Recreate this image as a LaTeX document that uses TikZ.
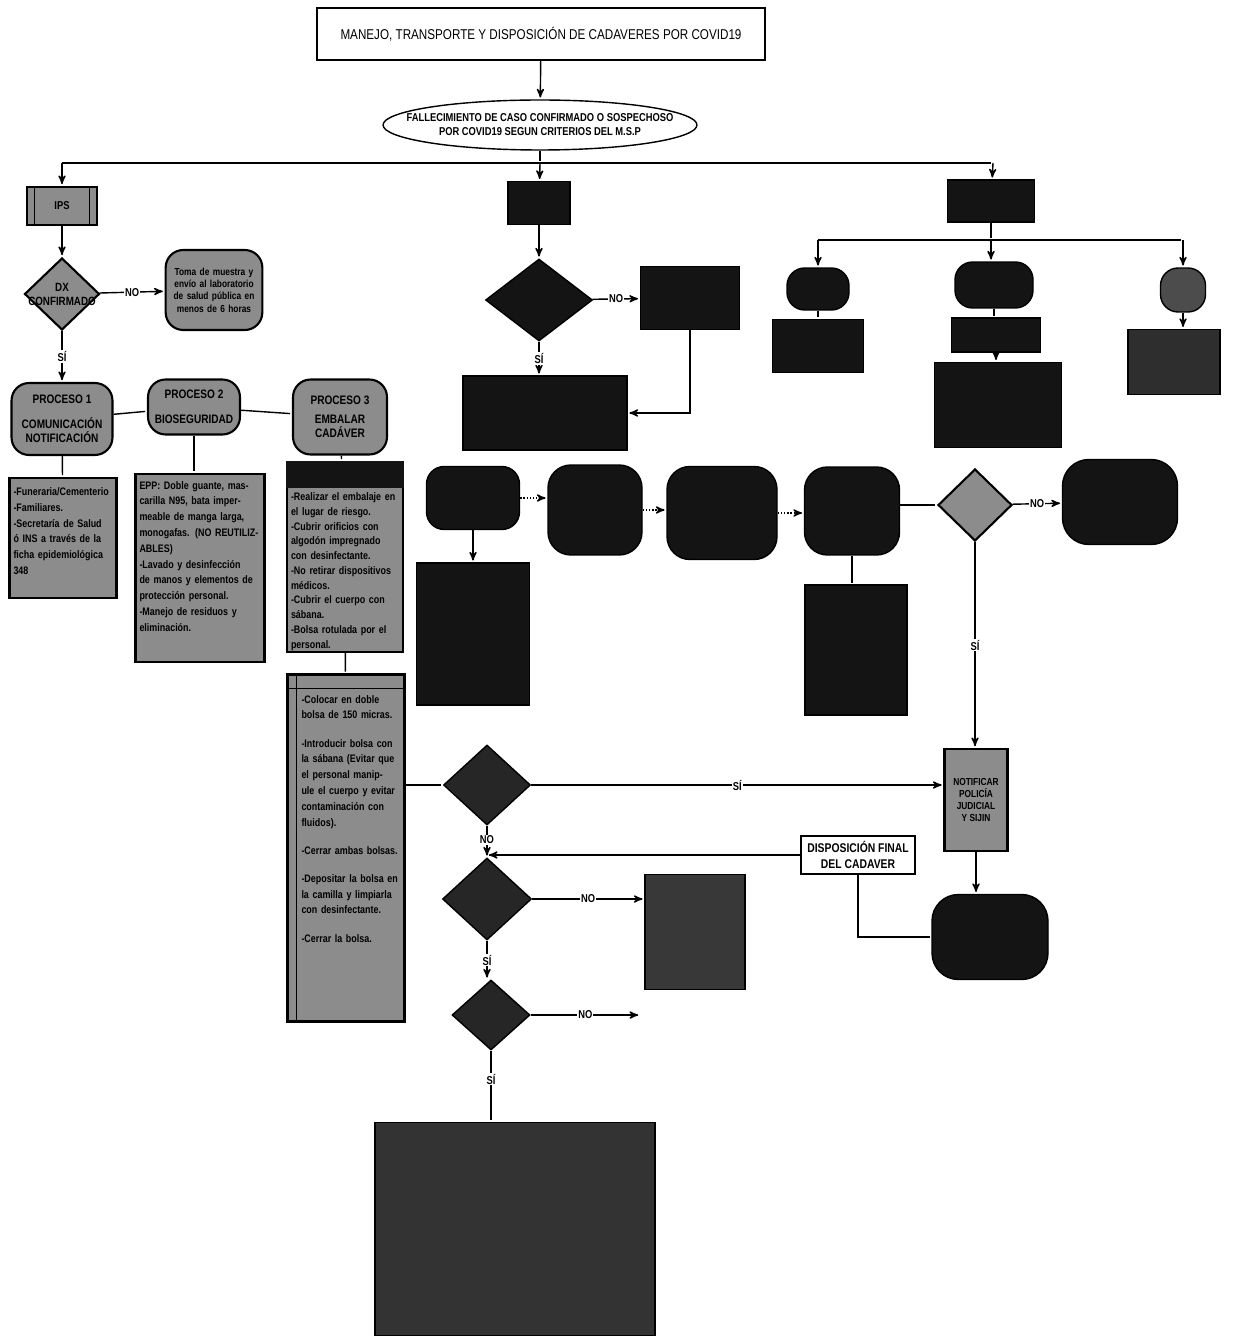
\documentclass[tikz,border=0pt]{standalone}
\usepackage{fontspec}
\setmainfont{Liberation Sans}
\newfontfamily\narrow[FakeStretch=0.82]{Liberation Sans}
\usetikzlibrary{arrows, positioning, shapes.geometric, calc}

\begin{document}
\begin{tikzpicture}[->,>=stealth',shorten >=1pt,x=0.02cm,y=-0.02cm,line width=0.8pt,
        every node/.style={font=\narrow\bfseries\fontsize{6}{7}\selectfont},
        dark box/.style={rectangle,draw,fill=black!92,inner sep=0pt},
        dark round/.style={rectangle,draw,fill=black!92,rounded corners=10pt,inner sep=0pt},
        gray box/.style={rectangle,draw,line width=1.2pt,fill=black!45,inner sep=2pt,align=left},
        box text/.style={draw=none,fill=none,inner sep=0pt,anchor=north,align=left,font=\narrow\bfseries\fontsize{6.2}{9}\selectfont},
        gray round/.style={rectangle,draw,line width=1.2pt,fill=black!45,rounded corners=10pt,align=center},
        dia/.style={diamond,draw,fill=black!92,inner sep=0pt},
        gray dia/.style={diamond,draw,line width=1.2pt,fill=black!45,inner sep=0pt},
        lbl/.style={fill=white,inner sep=0.6pt,font=\narrow\bfseries\fontsize{6.5}{6.5}\selectfont}]
    \useasboundingbox (0,0) rectangle (1249,1337);

    % top
    \node[draw,minimum width=8.96cm,minimum height=1.04cm,font=\narrow\fontsize{8.1}{9}\selectfont] (title) at (541,34) {MANEJO, TRANSPORTE Y DISPOSICIÓN DE CADAVERES POR COVID19};
    \node[ellipse,draw,minimum width=6.28cm,minimum height=1cm,inner sep=0pt,
          label={[align=center,font=\narrow\bfseries\fontsize{6.5}{8}\selectfont]center:FALLECIMIENTO DE CASO CONFIRMADO O SOSPECHOSO\\POR COVID19 SEGUN CRITERIOS DEL M.S.P}] (fall) at (540,125) {};
    \coordinate (bus) at (540,163);
    \coordinate (busL) at (62,163);
    \coordinate (busR) at (993,163);
    \draw (title) -- (fall);
    \draw[-] (fall) -- (bus);
    \draw[-] (busL) -- (busR);

    % left column
    \node[gray box,minimum width=1.4cm,minimum height=0.76cm,align=center,font=\narrow\bfseries\fontsize{6.5}{7}\selectfont] (ips) at (62,206) {IPS};
    \draw[-] ([xshift=5pt]ips.north west) -- ([xshift=5pt]ips.south west);
    \draw[-] ([xshift=-5pt]ips.north east) -- ([xshift=-5pt]ips.south east);
    \node[gray dia,minimum width=1.5cm,minimum height=1.44cm,
          label={[align=center,font=\narrow\bfseries\fontsize{6.8}{8}\selectfont]center:DX\\CONFIRMADO}] (dx) at (62,294) {};
    \node[gray round,minimum width=1.9cm,minimum height=1.6cm,text width=1.7cm,font=\narrow\bfseries\fontsize{5.8}{7}\selectfont] (toma) at (214,290) {Toma de muestra y envío al laboratorio de salud pública en menos de 6 horas};
    \node[gray round,minimum width=2.02cm,minimum height=1.44cm,font=\narrow\bfseries\fontsize{7}{8}\selectfont] (p1) at (62,419) {PROCESO 1\\[6pt]COMUNICACIÓN\\NOTIFICACIÓN};
    \node[gray round,minimum width=1.84cm,minimum height=1.1cm,font=\narrow\bfseries\fontsize{7}{8}\selectfont] (p2) at (194,407) {PROCESO 2\\[6pt]BIOSEGURIDAD};
    \node[gray round,minimum width=1.88cm,minimum height=1.5cm,font=\narrow\bfseries\fontsize{7}{8}\selectfont] (p3) at (340,417) {PROCESO 3\\[3pt]EMBALAR\\CADÁVER};

    \draw (busL) -- (ips);
    \draw (ips) -- (dx);
    \draw (dx) -- node[lbl] {NO} (toma);
    \draw (dx) -- node[lbl] {SÍ} (p1);
    \draw[-] (p1) -- (p2);
    \draw[-] (p2) -- (p3);

    \node[gray box,minimum width=2.14cm,minimum height=2.4cm] (n1) at (63,538) {};
    \node[box text,text width=1.98cm] (n1t) at ([yshift=-0.2cm]n1.north) {-Funeraria/Cementerio\\-Familiares.\\-Secretaría de Salud ó INS a través de la ficha epidemiológica 348};
    \node[gray box,minimum width=2.58cm,minimum height=3.76cm] (n2) at (200,568) {};
    \node[box text,text width=2.42cm] (n2t) at ([yshift=-0.15cm]n2.north) {EPP: Doble guante, mascarilla N95, bata impermeable de manga larga, monogafas. (NO REUTILIZABLES)\\-Lavado y desinfección de manos y elementos de protección personal.\\-Manejo de residuos y eliminación.};
    \node[gray box,minimum width=2.32cm,minimum height=3.8cm] (n3) at (345,557) {};
    \fill[black!92] (n3.north west) rectangle ([yshift=-0.55cm]n3.north east);
    \node[box text,text width=2.16cm,font=\narrow\bfseries\fontsize{6.2}{8.4}\selectfont] (n3t) at ([yshift=-0.62cm]n3.north) {-Realizar el embalaje en el lugar de riesgo.\\-Cubrir orificios con algodón impregnado con desinfectante.\\-No retirar dispositivos médicos.\\-Cubrir el cuerpo con sábana.\\-Bolsa rotulada por el personal.};
    \node[gray box,minimum width=2.34cm,minimum height=6.94cm] (n4) at (346,848) {};
    \draw[-] ([xshift=0.2cm]n4.north west) -- ([xshift=0.2cm]n4.south west);
    \draw[-] ([yshift=-0.3cm]n4.north west) -- ([yshift=-0.3cm]n4.north east);
    \node[box text,text width=1.98cm] (n4t) at ([xshift=0.1cm,yshift=-0.42cm]n4.north) {-Colocar en doble bolsa de 150 micras.\\[7pt]-Introducir bolsa con la sábana (Evitar que el personal manipule el cuerpo y evitar contaminación con fluidos).\\[7pt]-Cerrar ambas bolsas.\\[7pt]-Depositar la bolsa en la camilla y limpiarla con desinfectante.\\[7pt]-Cerrar la bolsa.};

    \draw[-] (p1) -- (n1);
    \draw[-] (p2.south) -- (p2.south |- n2.north);
    \draw[-] (p3) -- (n3);
    \draw[-] (n3) -- (n4);

    % middle column
    \node[dark box,minimum width=1.24cm,minimum height=0.86cm] (mid) at (539,203) {};
    \node[dia,minimum width=2.14cm,minimum height=1.64cm] (m1) at (539,300) {};
    \node[dark box,minimum width=1.98cm,minimum height=1.26cm] (mno) at (690,298) {};
    \node[dark box,minimum width=3.28cm,minimum height=1.48cm] (m2) at (545,413) {};
    \draw (bus) -- (mid);
    \draw (mid) -- (m1);
    \draw (m1) -- node[lbl] {NO} (mno);
    \draw (m1) -- node[lbl] {SÍ} (m1 |- m2.north);
    \draw (mno.south) |- (m2.east);

    % right column
    \node[dark box,minimum width=1.74cm,minimum height=0.84cm] (rtop) at (991,201) {};
    \coordinate (rbus) at (991,240);
    \coordinate (rbusL) at (818,240);
    \coordinate (rbusR) at (1183,240);
    \node[dark round,minimum width=1.24cm,minimum height=0.84cm] (ra) at (818,289) {};
    \node[dark round,minimum width=1.56cm,minimum height=0.92cm] (rb) at (994,285) {};
    \node[dark round,fill=black!70,minimum width=0.9cm,minimum height=0.88cm] (rc) at (1183,290) {};
    \node[dark box,minimum width=1.82cm,minimum height=1.06cm] (ra2) at (818,346) {};
    \node[dark box,minimum width=1.78cm,minimum height=0.68cm] (rb2) at (996,335) {};
    \node[dark box,minimum width=2.54cm,minimum height=1.7cm] (rb3) at (998,405) {};
    \node[dark box,fill=black!82,minimum width=1.84cm,minimum height=1.3cm] (rc2) at (1174,362) {};
    \draw (busR) -- (rtop);
    \draw[-] (rtop) -- (rbus);
    \draw[-] (rbusL) -- (rbusR);
    \draw (rbusL) -- (ra);
    \draw (rbus) -- (rbus |- rb.north);
    \draw (rbusR) -- (rc);
    \draw[-] (ra) -- (ra2);
    \draw[-] (rb.south) -- (rb.south |- rb2.north);
    \draw (rb2) -- (rb2 |- rb3.north);
    \draw (rc) -- (rc |- rc2.north);

    % row of steps
    \node[dark round,minimum width=1.86cm,minimum height=1.26cm] (s1) at (473,498) {};
    \node[dark round,rounded corners=13pt,minimum width=1.88cm,minimum height=1.8cm] (s2) at (595,510) {};
    \node[dark round,rounded corners=13pt,minimum width=2.2cm,minimum height=1.86cm] (s3) at (722,513) {};
    \node[dark round,rounded corners=13pt,minimum width=1.9cm,minimum height=1.76cm] (s4) at (852,511) {};
    \node[gray dia,minimum width=1.48cm,minimum height=1.44cm] (dr) at (975,505) {};
    \node[dark round,rounded corners=15pt,minimum width=2.3cm,minimum height=1.7cm] (drno) at (1120,502) {};
    \node[dark box,minimum width=2.26cm,minimum height=2.84cm] (b1) at (473,634) {};
    \node[dark box,minimum width=2.04cm,minimum height=2.6cm] (b4) at (856,650) {};
    \draw[densely dotted] (s1.east) -- (s1.east -| s2.west);
    \draw[densely dotted] (s2.east) -- (s2.east -| s3.west);
    \draw[densely dotted] (s3.east) -- (s3.east -| s4.west);
    \draw[-] (s4.east |- dr) -- (dr);
    \draw (dr) -- node[lbl] {NO} (drno);
    \draw (s1) -- (b1);
    \draw[-] (s4.south) -- (s4.south |- b4.north);

    % lower part
    \node[gray box,minimum width=1.26cm,minimum height=2.04cm,align=center,font=\narrow\bfseries\fontsize{5.8}{7}\selectfont] (notif) at (976,800) {NOTIFICAR\\POLICÍA\\JUDICIAL\\Y SIJIN};
    \node[dark round,rounded corners=15pt,minimum width=2.32cm,minimum height=1.7cm] (fin) at (990,937) {};
    \node[draw,line width=1.2pt,fill=white,align=center,font=\narrow\bfseries\fontsize{7.2}{8.8}\selectfont] (disp) at (858,855) {DISPOSICIÓN FINAL\\DEL CADAVER};
    \node[dia,fill=black!85,minimum width=1.74cm,minimum height=1.6cm] (d1) at (487,785) {};
    \node[dia,fill=black!85,minimum width=1.78cm,minimum height=1.64cm] (d2) at (487,899) {};
    \node[dia,fill=black!85,minimum width=1.56cm,minimum height=1.4cm] (d3) at (491,1015) {};
    \node[dark box,fill=black!78,minimum width=2cm,minimum height=2.3cm] (grno) at (695,932) {};
    \node[dark box,fill=black!80,minimum width=5.6cm,minimum height=4.26cm] (fin2) at (515,1229) {};
    \coordinate (open) at (640,1015);

    \draw (dr) -- node[lbl,pos=0.5] {SÍ} (dr |- notif.north);
    \draw[-] (n4.east |- d1) -- (d1);
    \draw (d1) -- node[lbl] {SÍ} (d1 -| notif.west);
    \draw (notif.south) -- (notif.south |- fin.north);
    \draw[-] (disp.south) |- (fin.west);
    \draw (disp.west) -- (disp.west -| d2.north);
    \draw (d1) -- node[lbl,pos=0.45] {NO} (d2);
    \draw (d2) -- node[lbl] {NO} (d2 -| grno.west);
    \draw (d2) -- node[lbl] {SÍ} (d2 |- d3.north);
    \draw (d3) -- node[lbl] {NO} (open);
    \draw[-] (d3) -- node[lbl,pos=0.4] {SÍ} (d3 |- fin2.north);
\end{tikzpicture}
\end{document}
